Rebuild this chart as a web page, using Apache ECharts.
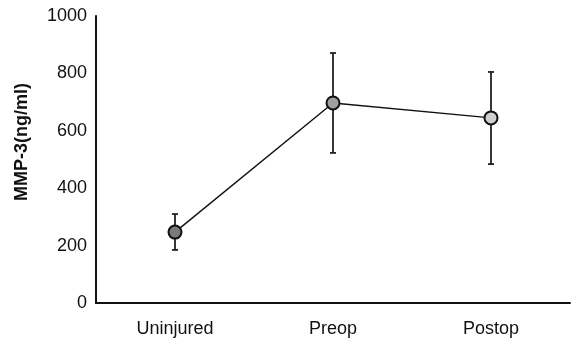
<!DOCTYPE html>
<html><head><meta charset="utf-8">
<script src="https://cdn.jsdelivr.net/npm/echarts@6/dist/echarts.min.js"></script>
<style>html,body{margin:0;padding:0;background:#fff}#c{width:571px;height:354px}</style>
</head><body><div id="c"></div>
<script>
const categories = ['Uninjured', 'Preop', 'Postop'];
const means = [247, 697, 645];
const upper = [310, 871, 805];
const lower = [185, 523, 484];
const markerColors = ['#7a7a7a', '#a0a0a0', '#cfcfcf'];
const yTicks = [0, 200, 400, 600, 800, 1000];
const yAxisName = 'MMP-3(ng/ml)';

const chart = echarts.init(document.getElementById('c'));
const font = 'Liberation Sans, Arial, sans-serif';
chart.setOption({
  animation: false,
  grid: { left: 96, right: 1, top: 16, bottom: 51 },
  graphic: [{
    type: 'text', x: 22, y: 142, rotation: Math.PI / 2, z: 10,
    style: { text: yAxisName, fill: '#111', font: 'bold 18px ' + font,
      align: 'center', verticalAlign: 'middle' }
  }],
  xAxis: {
    type: 'category', data: categories, boundaryGap: true,
    axisLine: { lineStyle: { color: '#111', width: 2 } },
    axisTick: { show: false },
    axisLabel: { color: '#111', fontSize: 18, fontFamily: font, margin: 17 }
  },
  yAxis: {
    type: 'value', min: 0, max: 1000, interval: 200,
    axisLine: { show: true, lineStyle: { color: '#111', width: 2 } },
    axisTick: { show: false },
    splitLine: { show: false },
    axisLabel: { color: '#111', fontSize: 18, fontFamily: font, margin: 9,
      formatter: v => yTicks.includes(v) ? String(v) : '' }
  },
  series: [
    {
      type: 'custom', z: 1,
      data: categories.map((c, i) => [i, lower[i], upper[i]]),
      renderItem: (params, api) => {
        const x = api.value(0);
        const lo = api.coord([x, api.value(1)]);
        const hi = api.coord([x, api.value(2)]);
        const w = 3;
        const st = { stroke: '#222', lineWidth: 1.8 };
        return { type: 'group', children: [
          { type: 'line', shape: { x1: lo[0], y1: lo[1], x2: hi[0], y2: hi[1] }, style: st },
          { type: 'line', shape: { x1: lo[0]-w, y1: lo[1], x2: lo[0]+w, y2: lo[1] }, style: st },
          { type: 'line', shape: { x1: hi[0]-w, y1: hi[1], x2: hi[0]+w, y2: hi[1] }, style: st }
        ]};
      }
    },
    {
      type: 'line', z: 3,
      data: means.map((v, i) => ({ value: v, itemStyle: { color: markerColors[i] } })),
      symbol: 'circle', symbolSize: 13,
      lineStyle: { color: '#111', width: 1.4 },
      itemStyle: { borderColor: '#111', borderWidth: 2 }
    }
  ]
});
</script></body></html>
